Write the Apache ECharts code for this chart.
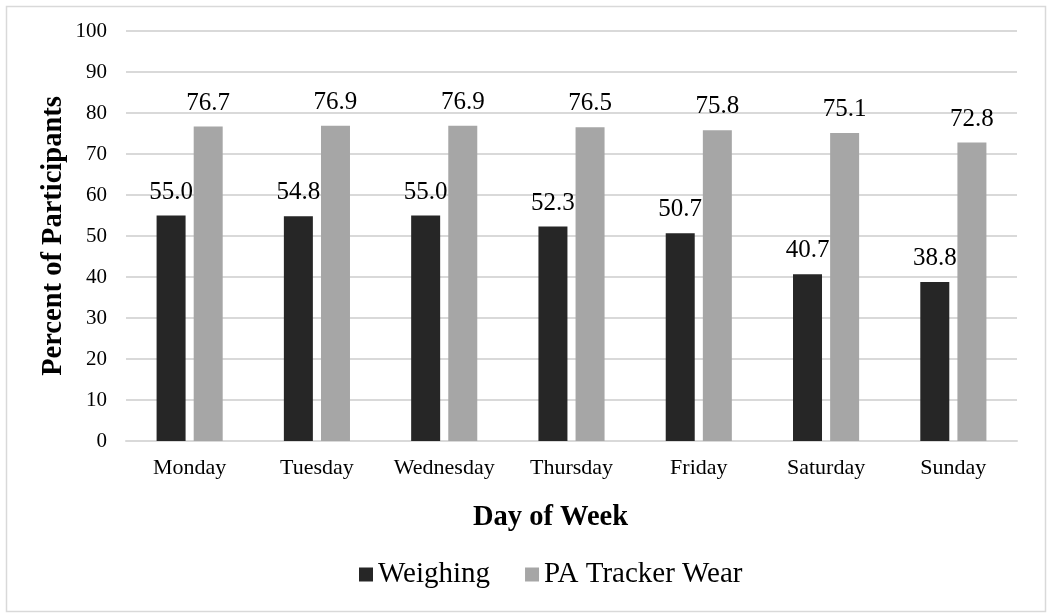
<!DOCTYPE html>
<html>
<head>
<meta charset="utf-8">
<script src="https://cdn.jsdelivr.net/npm/echarts@6/dist/echarts.min.js"></script>
<style>
html,body{margin:0;padding:0;background:#fff;}
#c{width:1048px;height:614px;}
</style>
</head>
<body>
<div id="c"></div>
<script>
const categories = ['Monday','Tuesday','Wednesday','Thursday','Friday','Saturday','Sunday'];
const weighing = [55.0, 54.8, 55.0, 52.3, 50.7, 40.7, 38.8];
const trackerWear = [76.7, 76.9, 76.9, 76.5, 75.8, 75.1, 72.8];
const seriesNames = ['Weighing', 'PA Tracker Wear'];

const FONT = '"Liberation Serif", "Times New Roman", serif';
const chart = echarts.init(document.getElementById('c'), null, {renderer: 'canvas'});
const labelCfg = {
  show: true, position: 'top', distance: 11,
  fontFamily: FONT, fontSize: 25, color: '#000',
  formatter: p => p.value.toFixed(1)
};
chart.setOption({
  animation: false,
  backgroundColor: '#fff',
  textStyle: {fontFamily: FONT},
  graphic: [{
    type: 'rect', left: 4, top: 4, silent: true,
    shape: {width: 1039, height: 605},
    style: {fill: 'none', stroke: '#d9d9d9', lineWidth: 1.5}
  }],
  grid: {left: 126, right: 31, top: 31, bottom: 173, containLabel: false},
  legend: {
    data: seriesNames, bottom: 20, left: 354,
    itemWidth: 14, itemHeight: 14, itemGap: 35,
    icon: 'rect',
    textStyle: {fontFamily: FONT, fontSize: 29, color: '#000'}
  },
  xAxis: {
    type: 'category', data: categories,
    name: 'Day of Week', nameLocation: 'middle', nameGap: 62,
    nameTextStyle: {fontFamily: FONT, fontSize: 28.5, fontWeight: 'bold', color: '#000', padding: [0, 42, 0, 0]},
    axisLine: {lineStyle: {color: '#d9d9d9', width: 2}},
    axisTick: {show: false},
    axisLabel: {fontFamily: FONT, fontSize: 22, color: '#000', margin: 16, interval: 0}
  },
  yAxis: {
    type: 'value', min: 0, max: 100, interval: 10,
    name: 'Percent of Participants', nameLocation: 'middle', nameGap: 58,
    nameMoveOverlap: false,
    nameTextStyle: {fontFamily: FONT, fontSize: 28.5, fontWeight: 'bold', color: '#000'},
    axisLine: {show: false}, axisTick: {show: false},
    splitLine: {lineStyle: {color: '#d9d9d9', width: 2}},
    axisLabel: {fontFamily: FONT, fontSize: 21, color: '#000', margin: 19}
  },
  series: [
    {name: seriesNames[0], type: 'bar', data: weighing, barWidth: 29, barGap: '28%',
     itemStyle: {color: '#262626'}, label: labelCfg},
    {name: seriesNames[1], type: 'bar', data: trackerWear, barWidth: 29, barGap: '28%',
     itemStyle: {color: '#a6a6a6'}, label: labelCfg}
  ]
});
</script>
</body>
</html>
